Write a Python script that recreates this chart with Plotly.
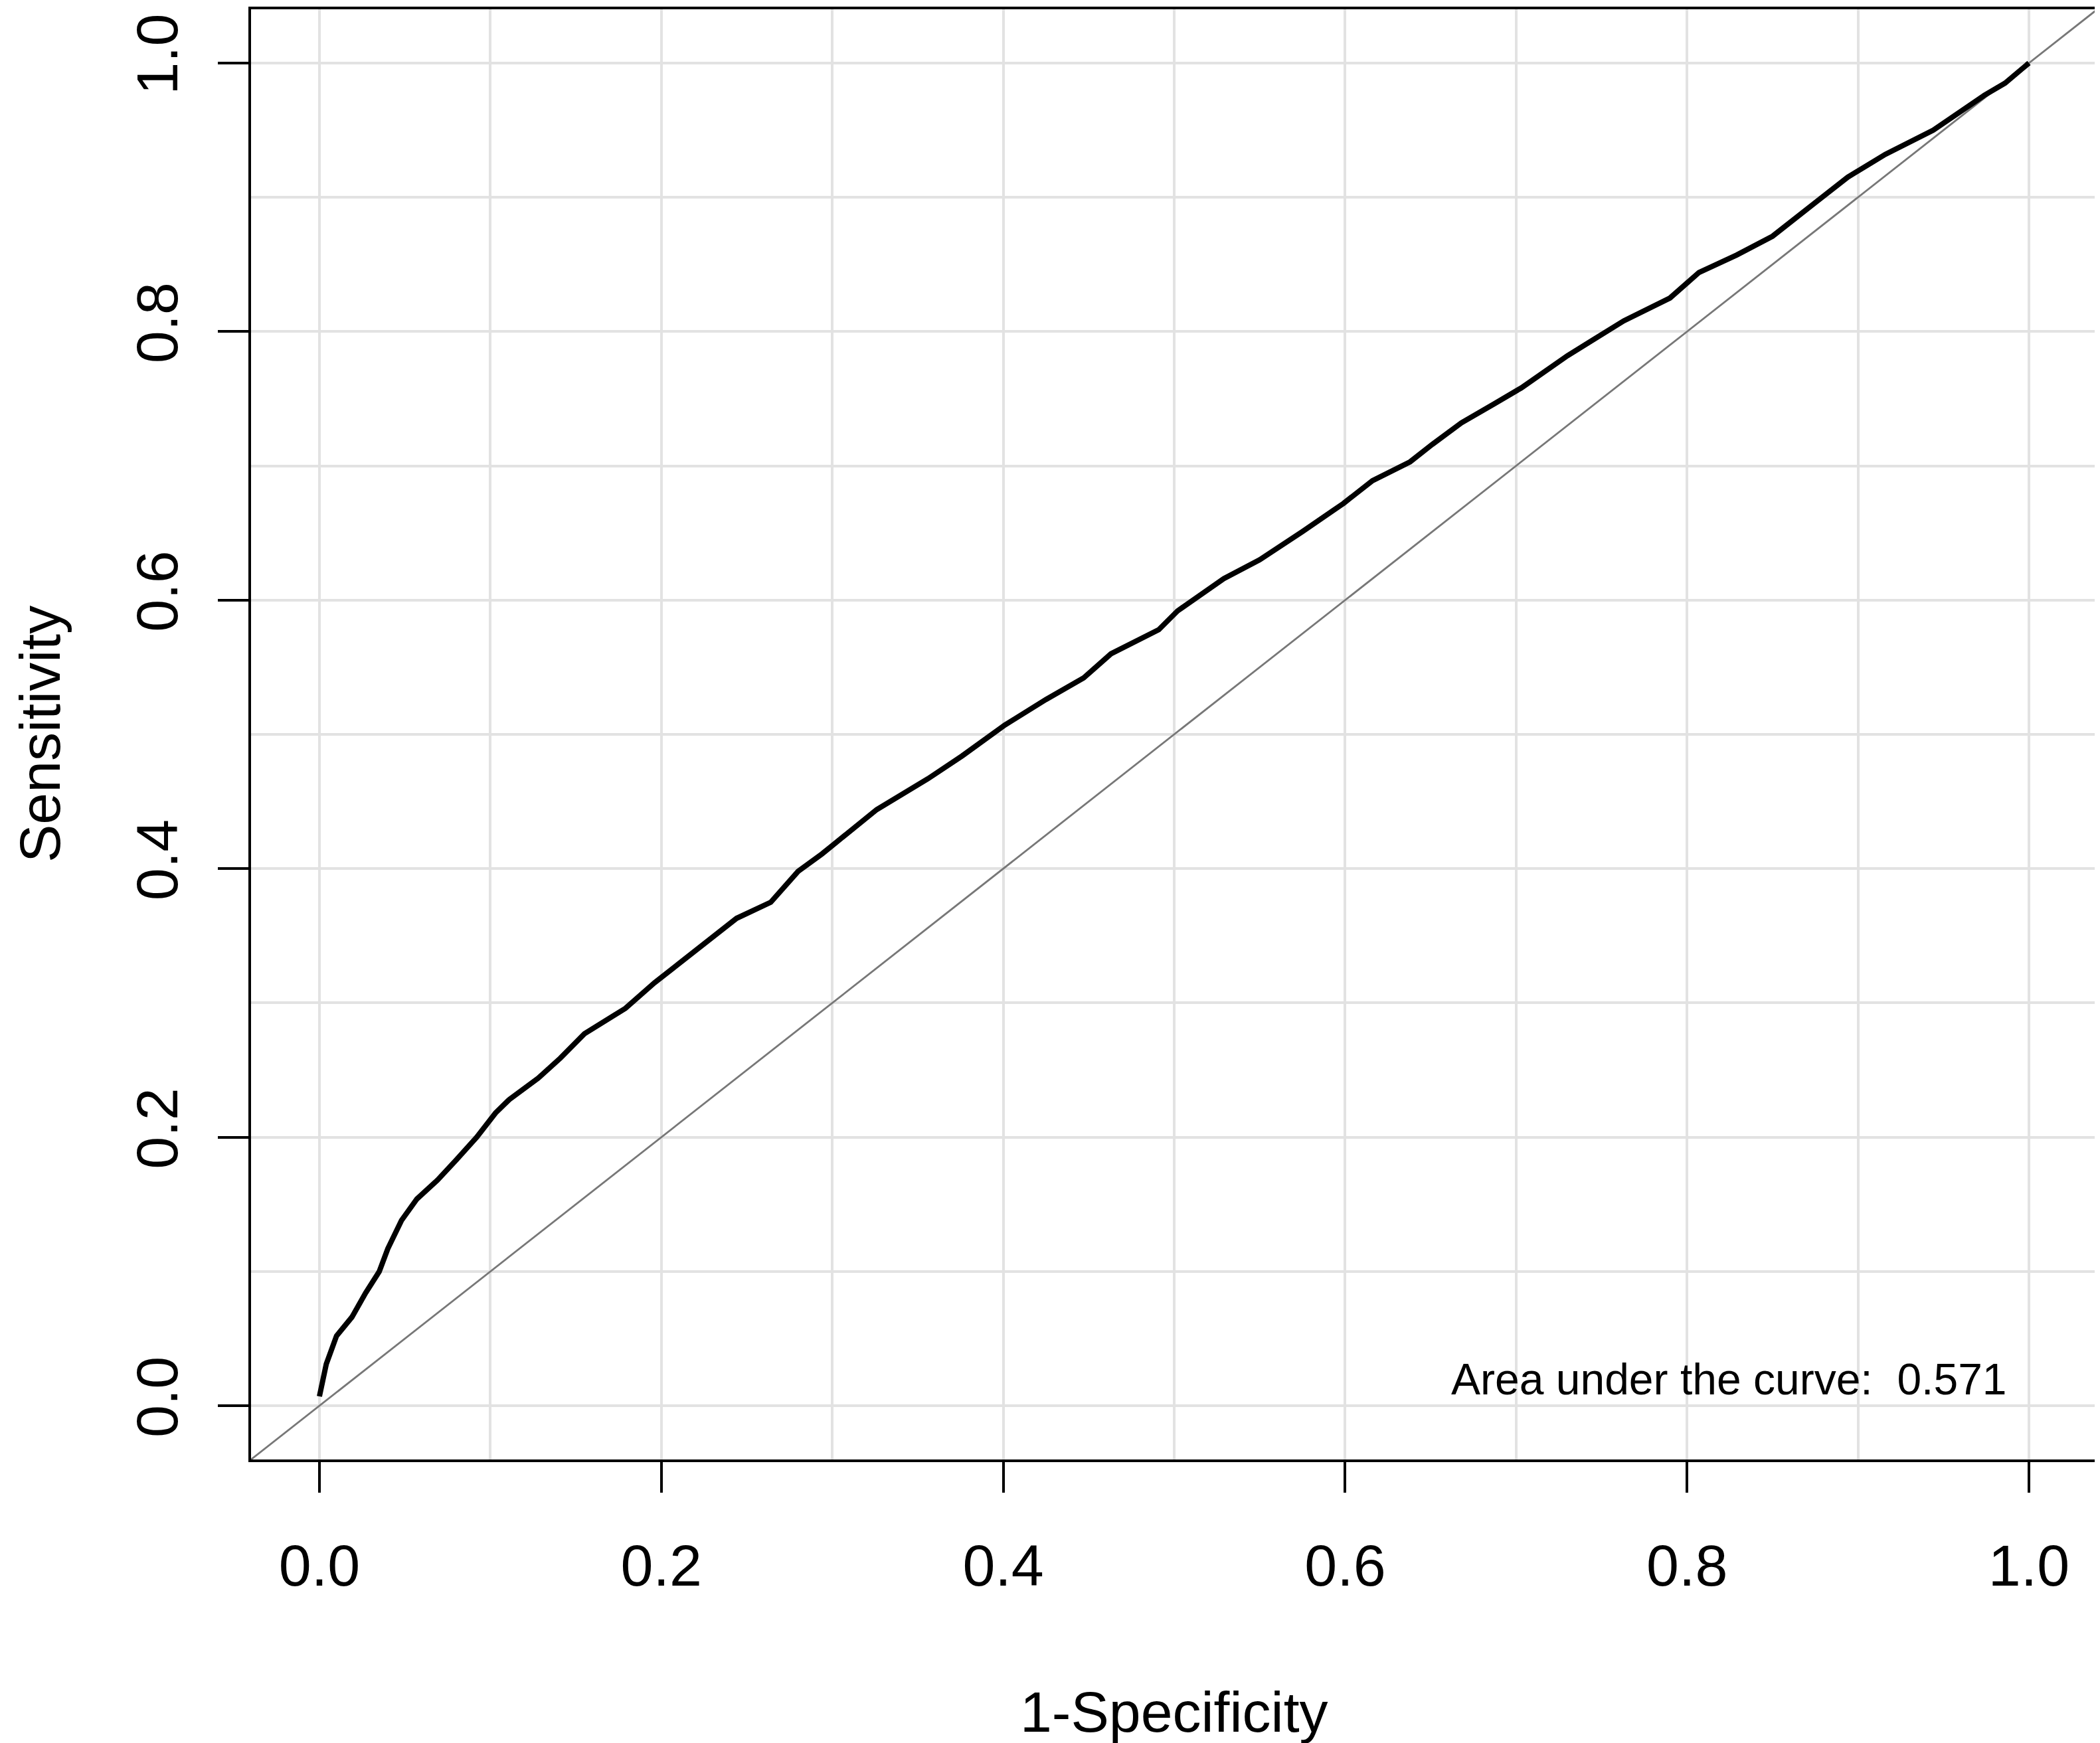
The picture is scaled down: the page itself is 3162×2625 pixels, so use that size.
import plotly.graph_objects as go

# ROC curve points (1 - specificity, sensitivity)
fpr = [0.0, 0.004, 0.010, 0.019, 0.027, 0.035, 0.040, 0.048, 0.057, 0.069,
       0.080, 0.092, 0.103, 0.111, 0.128, 0.141, 0.155, 0.179, 0.196, 0.215,
       0.228, 0.244, 0.264, 0.280, 0.294, 0.307, 0.326, 0.356, 0.376, 0.401,
       0.425, 0.447, 0.463, 0.491, 0.502, 0.529, 0.550, 0.575, 0.599, 0.616,
       0.638, 0.651, 0.668, 0.687, 0.703, 0.730, 0.763, 0.790, 0.807, 0.829,
       0.850, 0.876, 0.894, 0.916, 0.944, 0.974, 0.986, 1.0]
tpr = [0.007, 0.031, 0.052, 0.066, 0.084, 0.100, 0.117, 0.138, 0.154, 0.168,
       0.183, 0.200, 0.218, 0.228, 0.244, 0.259, 0.277, 0.296, 0.315, 0.334,
       0.346, 0.363, 0.375, 0.398, 0.411, 0.424, 0.444, 0.467, 0.484, 0.507,
       0.526, 0.542, 0.560, 0.578, 0.592, 0.616, 0.630, 0.651, 0.672, 0.689,
       0.703, 0.716, 0.732, 0.746, 0.758, 0.782, 0.808, 0.825, 0.844, 0.857,
       0.871, 0.897, 0.915, 0.932, 0.950, 0.976, 0.985, 1.0]
tick_vals = [0.0, 0.2, 0.4, 0.6, 0.8, 1.0]
tick_text = ["0.0", "0.2", "0.4", "0.6", "0.8", "1.0"]
axis_range = [-0.04, 1.04]
auc = 0.571

FONT = "Liberation Sans, Arial, sans-serif"
GRID = "#e2e2e2"

fig = go.Figure()

# abline(0, 1), drawn across the whole plotting region
fig.add_trace(go.Scatter(
    x=axis_range, y=axis_range, mode="lines",
    line=dict(color="#777777", width=2.8),
    showlegend=False, hoverinfo="skip",
))
fig.add_trace(go.Scatter(
    x=fpr, y=tpr, mode="lines",
    line=dict(color="black", width=8),
    showlegend=False,
))

fig.add_annotation(
    x=0.988, y=0.02, xref="x", yref="y",
    text=f"Area under the curve:  {auc}",
    showarrow=False, xanchor="right", yanchor="middle",
    font=dict(family=FONT, size=66, color="black"),
)

fig.add_annotation(
    x=0.5, y=0, xref="paper", yref="paper", yshift=-380,
    text="1-Specificity", showarrow=False,
    xanchor="center", yanchor="middle",
    font=dict(family=FONT, size=86, color="black"),
)
fig.add_annotation(
    x=0, y=0.5, xref="paper", yref="paper", xshift=-318,
    text="Sensitivity", showarrow=False, textangle=-90,
    xanchor="center", yanchor="middle",
    font=dict(family=FONT, size=86, color="black"),
)

axis_common = dict(
    range=axis_range, automargin=False,
    tickmode="array", tickvals=tick_vals, ticktext=tick_text,
    ticks="outside", ticklen=46, tickwidth=4, tickcolor="black",
    showline=True, linecolor="black", linewidth=4, mirror=True,
    showgrid=True, gridcolor=GRID, gridwidth=3.5,
    minor=dict(tick0=0, dtick=0.1, showgrid=True, gridcolor=GRID,
               gridwidth=3.5, ticks=""),
    zeroline=False,
    tickfont=dict(family=FONT, size=88, color="black"),
)

fig.update_xaxes(**axis_common, ticklabelstandoff=34)
fig.update_yaxes(**axis_common, tickangle=-90, ticklabelstandoff=26)

fig.update_layout(
    width=3162, height=2625,
    margin=dict(l=370, r=12, t=6, b=435),
    paper_bgcolor="white", plot_bgcolor="white",
    font=dict(family=FONT, color="black"),
)

fig.write_html("out.html")
